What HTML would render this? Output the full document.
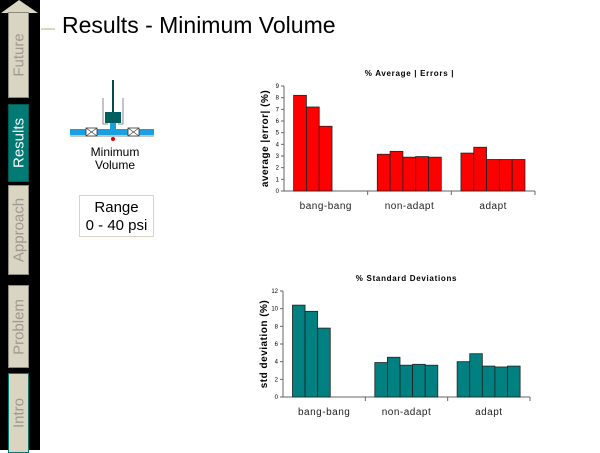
<!DOCTYPE html>
<html><head><meta charset="utf-8"><style>
body{margin:0;width:600px;height:450px;background:#fff;position:relative;overflow:hidden;font-family:"Liberation Sans",sans-serif}
.tab{position:absolute;left:8px;width:21px;background:#d9d5c0;border:1px solid #8a8a80;box-sizing:border-box}
.tab span{position:absolute;left:50%;top:50%;transform:translate(-50%,-50%) rotate(-90deg);font-size:15px;color:#9a9a90;white-space:nowrap}
</style></head><body>
<div style="position:absolute;left:0;top:0;width:40px;height:450px;background:#000"></div>
<svg style="position:absolute;left:0;top:0" width="40" height="14"><polygon points="1,13 19,0 38,13" fill="#d9d5c0"/></svg>
<div class="tab" style="top:12px;height:86px"><span>Future</span></div>
<div class="tab" style="top:104px;height:78px;background:#007a73;border-color:#005a55"><span style="color:#fff">Results</span></div>
<div class="tab" style="top:185px;height:90px"><span>Approach</span></div>
<div class="tab" style="top:285px;height:83px"><span>Problem</span></div>
<div class="tab" style="top:373px;height:80px;border-color:#007a73"><span>Intro</span></div>
<div style="position:absolute;left:41px;top:28px;width:14px;height:2px;background:#d9d5c0"></div>
<div style="position:absolute;left:62px;top:12px;font-size:23px;color:#000">Results - Minimum Volume</div>
<svg style="position:absolute;left:68px;top:78px" width="90" height="64">
<line x1="45" y1="2" x2="45" y2="34" stroke="#004a48" stroke-width="2"/>
<polyline points="35,20 35,46 40,46" fill="none" stroke="#888"/><polyline points="55,20 55,46 50,46" fill="none" stroke="#888"/>
<rect x="37" y="34" width="16" height="11" fill="#006060"/>
<rect x="2" y="51" width="84" height="6" fill="#1aa0e0"/><rect x="42" y="45" width="6" height="8" fill="#1aa0e0"/>
<line x1="2" y1="58" x2="86" y2="58" stroke="#888"/>
<rect x="18" y="50" width="11" height="8" fill="#fff" stroke="#333" stroke-width="0.8"/><path d="M18 50L29 58M29 50L18 58" stroke="#333" stroke-width="0.6"/>
<rect x="60" y="50" width="11" height="8" fill="#fff" stroke="#333" stroke-width="0.8"/><path d="M60 50L71 58M71 50L60 58" stroke="#333" stroke-width="0.6"/>
<circle cx="45" cy="61" r="2" fill="#d00"/></svg>
<div style="position:absolute;left:80px;top:146px;width:70px;text-align:center;font-size:12px;line-height:13px">Minimum<br>Volume</div>
<div style="position:absolute;left:79px;top:195px;width:75px;height:42px;border:1px solid #d9d5c0;text-align:center;font-size:15px;line-height:18px;padding-top:3px;box-sizing:border-box">Range<br>0 - 40 psi</div>
<svg id="c" style="position:absolute;left:0;top:0" width="600" height="450" font-family="Liberation Sans, sans-serif"></svg>
<script>
const categories=["bang-bang","non-adapt","adapt"];
const avgErr=[[8.2,7.2,5.55],[3.15,3.4,2.9,2.95,2.9],[3.25,3.75,2.7,2.7,2.7]];
const stdDev=[[10.4,9.7,7.8],[3.9,4.5,3.6,3.7,3.6],[4.0,4.9,3.5,3.4,3.5]];
const avgTicks=[0,1,2,3,4,5,6,7,8,9];
const stdTicks=[0,2,4,6,8,10,12];
const svg=document.getElementById('c');const NS='http://www.w3.org/2000/svg';
function mk(t,a,txt){const e=document.createElementNS(NS,t);for(const k in a)e.setAttribute(k,a[k]);if(txt!==undefined)e.textContent=txt;svg.appendChild(e);return e;}
function chart(cfg){
 const {x0,x1,y0,yTop,max,ticks,data,color,title,ylabel,name}=cfg;
 const ys=v=>y0-(v/max)*(y0-yTop);const cw=(x1-x0)/categories.length;const bw=cw*0.153;
 let t=mk('text',{x:(x0+x1)/2,y:yTop-10,'font-size':8,'font-weight':'bold','text-anchor':'middle','letter-spacing':'0.7'},title);
 
 const yl=mk('text',{transform:`translate(${x0-16},${(y0+yTop)/2}) rotate(-90)`,'font-size':10,'font-weight':'bold','text-anchor':'middle','letter-spacing':'0.5'},ylabel);
 
 mk('line',{x1:x0,y1:yTop,x2:x0,y2:y0,stroke:'#666'});mk('line',{x1:x0,y1:y0,x2:x1,y2:y0,stroke:'#666'});
 ticks.forEach(v=>{mk('line',{x1:x0-3,y1:ys(v),x2:x0,y2:ys(v),stroke:'#666'});
  const l=mk('text',{x:x0-5,y:ys(v)+2,'font-size':6,'text-anchor':'end'},v);});
 categories.forEach((c,i)=>{const cx=x0+i*cw;mk('line',{x1:cx+cw,y1:y0,x2:cx+cw,y2:y0+4,stroke:'#666'});
  const l=mk('text',{x:cx+cw/2,y:y0+18,'font-size':10,'text-anchor':'middle',fill:'#222','letter-spacing':'0.5'},c);
  
  data[i].forEach((v,j)=>{const r=mk('rect',{x:cx+cw*0.115+j*bw,y:ys(v),width:bw,height:y0-ys(v),fill:color,stroke:'#222','stroke-width':0.8});
   });});
}
chart({x0:284,x1:535,y0:191,yTop:86,max:9,ticks:avgTicks,data:avgErr,color:'#ff0000',title:'% Average | Errors |',ylabel:'average |error| (%)',name:'avg-chart'});
chart({x0:283,x1:530,y0:397,yTop:291,max:12,ticks:stdTicks,data:stdDev,color:'#008080',title:'% Standard Deviations',ylabel:'std deviation (%)',name:'std-chart'});
</script>
</body></html>
